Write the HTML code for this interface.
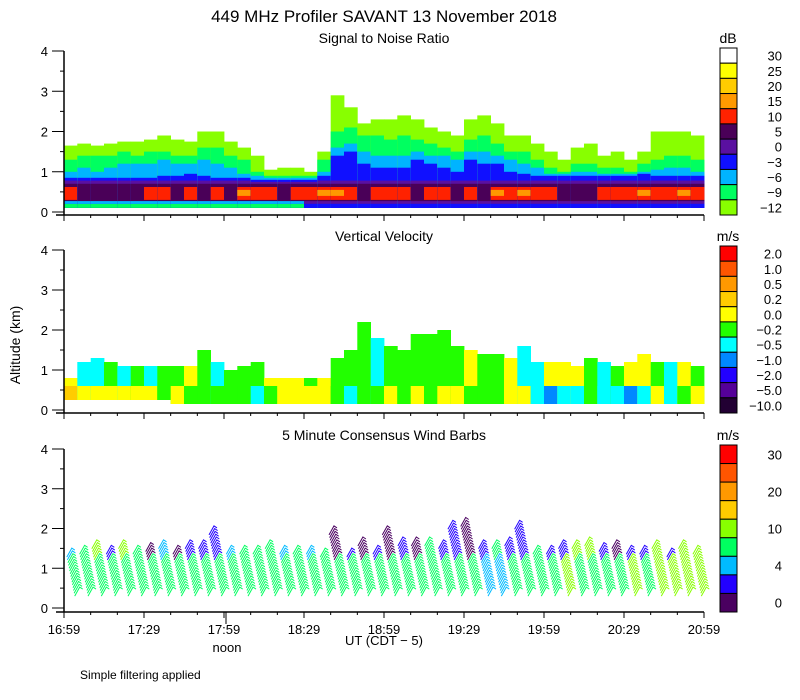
<!DOCTYPE html>
<html><head><meta charset="utf-8"><style>
body{margin:0;background:#fff;}
svg{display:block;font-family:"Liberation Sans",sans-serif;}
</style></head><body>
<svg id="chart" width="800" height="700" viewBox="0 0 800 700" xmlns="http://www.w3.org/2000/svg">
<text x="384" y="22" font-size="17" text-anchor="middle">449 MHz Profiler SAVANT 13 November 2018</text>
<text x="384" y="43" font-size="14" text-anchor="middle">Signal to Noise Ratio</text>
<text x="384" y="241" font-size="14" text-anchor="middle">Vertical Velocity</text>
<text x="384" y="440" font-size="14" text-anchor="middle">5 Minute Consensus Wind Barbs</text>
<text x="20" y="345" font-size="14" text-anchor="middle" transform="rotate(-90 20 345)">Altitude (km)</text>
<text x="384" y="645" font-size="13" text-anchor="middle">UT  (CDT − 5)</text>
<text x="227" y="652" font-size="13" text-anchor="middle">noon</text>
<text x="80" y="679" font-size="12">Simple filtering applied</text>
<g id="g-snr"></g>
<g id="g-vv"></g>
<g id="g-wind"></g>
<g id="g-axes"></g>
<g id="g-legend"></g>
</svg>
<script>
// ---- data ----
const timeLabels = ["16:59","17:29","17:59","18:29","18:59","19:29","19:59","20:29","20:59"];
const altTicks = [0,1,2,3,4];
const snrLimeTop = [1.65,1.7,1.65,1.7,1.75,1.75,1.8,1.9,1.8,1.75,2.0,2.0,1.75,1.6,1.4,1.05,1.1,1.1,1.0,1.5,2.9,2.6,2.2,2.3,2.3,2.4,2.3,2.1,2.0,1.9,2.3,2.4,2.2,1.9,1.9,1.7,1.5,1.3,1.6,1.7,1.4,1.5,1.3,1.5,2.0,2.0,2.0,1.9];
const snrGreenTop = [1.3,1.4,1.4,1.4,1.5,1.4,1.5,1.5,1.4,1.4,1.6,1.6,1.4,1.3,1.0,0.9,0.9,0.9,0.9,1.3,2.0,2.1,1.9,1.9,1.8,1.9,1.8,1.7,1.6,1.5,1.8,1.9,1.7,1.5,1.5,1.3,1.1,1.0,1.2,1.2,1.1,1.1,1.0,1.2,1.3,1.4,1.4,1.3];
const snrCyanTop = [1.0,1.1,1.0,1.1,1.2,1.2,1.2,1.3,1.2,1.2,1.3,1.2,1.1,0.95,0.9,0.85,0.85,0.85,0.85,1.0,1.6,1.7,1.5,1.4,1.4,1.4,1.5,1.4,1.4,1.3,1.5,1.5,1.4,1.3,1.2,1.1,0.95,0.95,1.0,1.0,0.95,0.95,0.95,1.0,1.05,1.1,1.1,1.0];
const snrBlueTop = [0.85,0.85,0.85,0.85,0.85,0.85,0.85,0.9,0.9,0.95,0.9,0.85,0.85,0.85,0.8,0.8,0.8,0.8,0.8,0.9,1.4,1.5,1.2,1.1,1.1,1.1,1.3,1.2,1.1,1.0,1.3,1.2,1.2,1.0,0.95,0.9,0.9,0.9,0.9,0.9,0.9,0.9,0.9,0.95,0.9,0.9,0.9,0.9];
const snrRedCore = [1,0,0,0,0,0,1,1,0,1,0,1,0,2,1,1,0,1,1,2,2,1,0,1,1,1,0,1,1,0,1,0,2,1,2,1,1,0,0,0,1,1,1,2,1,1,2,1];
const snrBottomBlue = [0,0,0,0,0,0,0,0,0,0,0,0,0,0,0,0,0,0,1,1,1,1,1,1,1,1,1,1,1,1,1,1,1,1,1,1,1,1,1,1,1,1,1,1,1,1,1,1];
const vvTop = [0.8,1.2,1.3,1.2,1.1,1.1,1.1,1.1,1.1,1.1,1.5,1.2,1.0,1.1,1.2,0.8,0.8,0.8,0.8,0.8,1.3,1.5,2.2,1.8,1.6,1.5,1.9,1.9,2.0,1.6,1.5,1.4,1.4,1.3,1.6,1.2,1.2,1.2,1.1,1.3,1.2,1.1,1.2,1.4,1.2,1.2,1.2,1.1];
const vvLow = [3,4,4,4,4,4,4,5,4,5,5,5,5,5,6,5,4,4,4,4,5,6,5,5,4,5,4,5,4,4,5,5,5,4,4,6,7,6,6,5,6,6,7,6,4,6,5,4];
const vvUp = [4,6,6,5,6,5,6,5,5,4,5,6,5,5,5,4,4,4,5,4,5,5,5,6,5,5,5,5,5,5,4,5,5,4,6,6,4,4,4,5,6,5,4,4,5,6,4,5];
const windTop = [1.3,1.35,1.5,1.4,1.5,1.4,1.45,1.5,1.4,1.5,1.55,1.9,1.35,1.4,1.4,1.5,1.4,1.35,1.4,1.3,1.9,1.3,1.6,1.4,1.9,1.6,1.6,1.6,1.5,2.0,2.1,1.5,1.5,1.6,2.0,1.4,1.4,1.5,1.55,1.6,1.45,1.5,1.4,1.4,1.5,1.3,1.5,1.4];
const windMain = [3,3,3,3,3,3,3,3,3,3,3,3,3,3,3,3,3,3,3,3,3,3,3,3,3,3,3,3,3,3,3,2,2,3,3,3,3,4,3,3,3,3,4,3,4,4,4,4];
const windUpper = [2,3,4,1,4,3,0,2,0,1,1,1,2,3,3,3,2,3,2,3,0,1,0,1,0,1,0,3,1,1,0,1,3,1,1,3,1,1,4,4,1,0,1,1,4,1,4,4];
const snrLabels = ["30","25","20","15","10","5","0","−3","−6","−9","−12"];
const vvLabels = ["2.0","1.0","0.5","0.2","0.0","−0.2","−0.5","−1.0","−2.0","−5.0","−10.0"];
const windLabels = ["30","","20","","10","","4","","0"];
</script>
<script>
const NS="http://www.w3.org/2000/svg";
function el(parent,tag,attrs){const e=document.createElementNS(NS,tag);for(const k in attrs)e.setAttribute(k,attrs[k]);parent.appendChild(e);return e;}
const X0=64, PX=640/240;
const xMin=m=>X0+m*PX;
const panels=[{y0:212,s:40.25,ax:215},{y0:410,s:40,ax:413},{y0:608,s:39.75,ax:612}];
const yAlt=(p,h)=>panels[p].y0-h*panels[p].s;
const snrColors=["#ffffff","#ffff00","#ffcc00","#ff9900","#ff2200","#4a0058","#5a10a0","#1010ff","#00b4ff","#00ff60","#88ff00"];
const vvColors=["#ff0000","#ff5500","#ff9900","#ffcc00","#ffff00","#22ff00","#00ffff","#0088ff","#2200ff","#550099","#220033"];
const windColors=["#4a0060","#2200ff","#00bbff","#00ff60","#88ff00","#ffcc00","#ff9900","#ff5500","#ff0000"];
const gS=document.getElementById('g-snr'),gV=document.getElementById('g-vv'),gW=document.getElementById('g-wind'),gA=document.getElementById('g-axes'),gL=document.getElementById('g-legend');
function band(g,p,i,h0,h1,c,name){
  if(h1<=h0)return;
  const r=el(g,'rect',{x:xMin(i*5).toFixed(1),y:yAlt(p,h1).toFixed(1),width:(PX*5+0.4).toFixed(1),height:(yAlt(p,h0)-yAlt(p,h1)).toFixed(1),fill:c});
  
  
}
// SNR
for(let i=0;i<snrLimeTop.length;i++){
  band(gS,0,i,0.1,snrLimeTop[i],snrColors[10],'snr-cell');
  band(gS,0,i,0.1,snrGreenTop[i],snrColors[9],'snr-cell');
  band(gS,0,i,0.1,snrCyanTop[i],snrColors[8],'snr-cell');
  band(gS,0,i,0.1,snrBlueTop[i],snrColors[7],'snr-cell');
  band(gS,0,i,0.2,Math.min(0.78,snrBlueTop[i]-0.05),snrColors[6],'snr-cell');
  band(gS,0,i,0.27,0.7,snrColors[5],'snr-cell');
  if(snrRedCore[i]>0)band(gS,0,i,0.3,0.62,snrColors[4],'snr-cell');
  if(snrRedCore[i]>1)band(gS,0,i,0.4,0.55,snrColors[3],'snr-cell');
  if(snrBottomBlue[i])band(gS,0,i,0.1,0.2,snrColors[7],'snr-cell');
  else {band(gS,0,i,0.1,0.2,snrColors[9],'snr-cell');band(gS,0,i,0.2,0.27,snrColors[8],'snr-cell');}
}
// VV
for(let i=0;i<vvTop.length;i++){
  const b=i<8?0.25:0.15;
  band(gV,1,i,b,vvTop[i],vvColors[vvUp[i]],'vv-cell');
  band(gV,1,i,b,Math.min(0.6,vvTop[i]),vvColors[vvLow[i]],'vv-cell');
}
// Wind barbs
for(let i=0;i<windTop.length;i++){
  const cx=xMin(i*5+2.5);
  for(let h=0.3;h<=windTop[i]+0.001;h+=0.07){
    const upper=h>1.2;
    const c=windColors[upper?windUpper[i]:windMain[i]];
    const x=cx-(h-0.8)*8, y=yAlt(2,h);
    const l=el(gW,'polyline',{points:`${x.toFixed(1)},${y.toFixed(1)} ${(x+5).toFixed(1)},${(y-9).toFixed(1)} ${(x+8).toFixed(1)},${(y-7).toFixed(1)}`,fill:'none',stroke:c,'stroke-width':1});
    
    
  }
}
// Axes
for(let p=0;p<3;p++){
  const ax=panels[p].ax;
  el(gA,'line',{x1:X0,y1:yAlt(p,4),x2:X0,y2:ax,stroke:'#000','stroke-width':1.5});
  el(gA,'line',{x1:X0-8,y1:ax,x2:704,y2:ax,stroke:'#000','stroke-width':1.5});
  for(let h=0;h<=4;h+=0.5){
    const y=yAlt(p,h);
    el(gA,'line',{x1:Number.isInteger(h)?X0-12:X0-4,y1:y,x2:X0,y2:y,stroke:'#000'});
  }
  altTicks.forEach(t=>{
    const tx=el(gA,'text',{x:X0-16,y:yAlt(p,t)+5,'font-size':13,'text-anchor':'end'});
    tx.textContent=t;
    
    
  });
  for(let m=0;m<=240;m+=10){
    const major=m%30===0;
    el(gA,'line',{x1:xMin(m),y1:ax,x2:xMin(m),y2:ax+(major?6:3),stroke:'#000'});
  }
}
el(gA,'line',{x1:xMin(60)+2,y1:612,x2:xMin(60)+2,y2:624,stroke:'#000'});
timeLabels.forEach((t,k)=>{
  const tx=el(gA,'text',{x:xMin(k*30),y:634,'font-size':13,'text-anchor':'middle'});
  tx.textContent=t;
  
  
});
// Legends
function legend(top,bottom,colors,labels,unit,name){
  const n=colors.length,h=(bottom-top)/n;
  const u=el(gL,'text',{x:728,y:top-5,'font-size':14,'text-anchor':'middle'});u.textContent=unit;
  
  
  colors.forEach((c,k)=>{
    const r=el(gL,'rect',{x:720,y:top+k*h,width:17,height:h,fill:c,stroke:'#000','stroke-width':1});
    
    
    if(labels[k]){
      const t=el(gL,'text',{x:782,y:top+k*h+h/2+5,'font-size':13,'text-anchor':'end'});t.textContent=labels[k];
      
      
    }
  });
}
legend(48,215,snrColors,snrLabels,'dB','snr-legend');
legend(246,413,vvColors,vvLabels,'m/s','vv-legend');
legend(445,612,windColors.slice().reverse(),windLabels,'m/s','wind-legend');
</script>
</body></html>
